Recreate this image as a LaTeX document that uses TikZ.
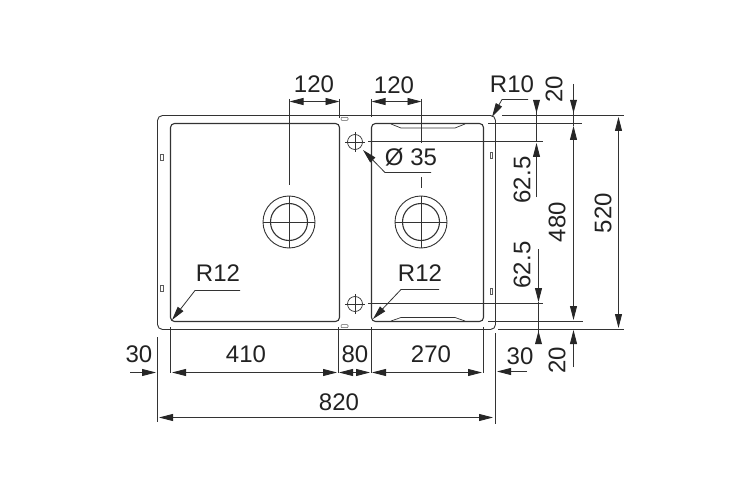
\documentclass[tikz,border=0pt]{standalone}
\usepackage{fontspec}
\setmainfont{Liberation Sans}
\usetikzlibrary{arrows.meta}
\definecolor{ink}{HTML}{333333}
\definecolor{txt}{HTML}{222222}
\tikzset{
  part/.style={draw=ink,line width=0.9pt},
  thin part/.style={draw=ink,line width=0.7pt},
  slot/.style={draw=ink!80,line width=0.5pt},
  dimline/.style={draw=ink,line width=0.8pt},
  tipped/.style={dimline,-{Triangle[length=14pt,width=7pt,color=black!85]}},
  both tipped/.style={dimline,{Triangle[length=14pt,width=7pt,color=black!85]}-{Triangle[length=14pt,width=7pt,color=black!85]}},
  headfill/.style={fill=black!85},
  lab/.style={inner sep=0pt,text=txt,font=\fontsize{24}{24}\selectfont},
  vlab/.style={lab,rotate=90},
}
\begin{document}
\begin{tikzpicture}[x=1pt,y=-1pt]
\useasboundingbox (0,0) rectangle (750,500);
\fill[white] (0,0) rectangle (750,500);
% sink outline
\draw[part,rounded corners=5pt] (157.5,115.5) rectangle (495.5,329.5);
\draw[part,line width=1.1pt,rounded corners=4pt] (170.5,123.5) rectangle (339.5,321.5);
\draw[part,line width=1.1pt,rounded corners=4pt] (371.5,123.5) -- (371.5,321.5) -- (483.5,321.5) -- (483.5,123.5) -- cycle;
\draw[thin part] (391,124) -- (401,128) -- (455,128) -- (465,124);
\draw[thin part] (391,321) -- (401,317.5) -- (455,317.5) -- (465,321);
% slots
\draw[slot,rounded corners=1pt] (341,117.3) rectangle (348,120.5);
\draw[slot,rounded corners=1pt] (341,324.5) rectangle (348,327.7);
\draw[slot] (160.5,154) rectangle (163,160);
\draw[slot] (160.5,285) rectangle (163,291);
\draw[slot] (490,152) rectangle (492.5,158);
\draw[slot] (490,288) rectangle (492.5,294);
% drains
\coordinate (dl) at (289,222);
\coordinate (dr) at (421,222);
\foreach \c in {dl,dr}{
  \draw[part] (\c) circle (26);
  \draw[part,line width=1.1pt] (\c) circle (18.5);
  \draw[thin part] ([xshift=-26pt]\c) -- ([xshift=26pt]\c);
  \draw[thin part] ([yshift=-26pt]\c) -- ([yshift=26pt]\c);
}
% tap holes
\coordinate (ht) at (355,142);
\coordinate (hb) at (355,304);
\foreach \c in {ht,hb}{
  \draw[thin part] (\c) circle (7.5);
  \draw[thin part] ([xshift=-10pt]\c) -- ([xshift=10pt]\c);
  \draw[thin part] ([yshift=-10pt]\c) -- ([yshift=10pt]\c);
}
% centre lines
\draw[dimline] (368,141.5) -- (543,141.5);
\draw[dimline] (368,303.5) -- (543,303.5);
\draw[dimline] (289.5,99) -- (289.5,185);
\draw[dimline] (421.5,99) -- (421.5,143);
\draw[dimline] (421.5,177) -- (421.5,188);
% top dimensions
\draw[dimline] (339.5,99) -- (339.5,118);
\draw[dimline] (371.5,99) -- (371.5,117);
\draw[both tipped] (289.5,101.5) -- (339.5,101.5);
\draw[both tipped] (371.5,101.5) -- (421.5,101.5);
\node[lab] (t120a) at (314,84) {120};
\node[lab] (t120b) at (394,85) {120};
% leaders
\draw[tipped] (431,172.5) -- (385,172.5) -- (363,150);
\node[lab] (tdia) at (411,157) {Ø 35};
\draw[tipped] (528,99.5) -- (502,99.5) -- (492,117);
\node[lab] (tr10) at (512,84) {R10};
\draw[tipped] (240,290.5) -- (195,290.5) -- (172,320);
\node[lab] (tr12a) at (218,273) {R12};
\draw[tipped] (439,289.5) -- (401,289.5) -- (373,319);
\node[lab] (tr12b) at (420,273) {R12};
% right extension lines
\draw[dimline] (502,115.5) -- (624,115.5);
\draw[part] (488,123.5) -- (582,123.5);
\draw[part] (488,321.5) -- (583,321.5);
\draw[dimline] (498,329.5) -- (624,329.5);
% right dimensions
\draw[dimline] (536.5,100) -- (536.5,141.5);
\fill[headfill] (533,100) -- (540,100) -- (536.5,113) -- cycle;
\draw[tipped] (536.5,197) -- (536.5,143);
\draw[dimline] (573.5,84) -- (573.5,126);
\fill[headfill] (570,100) -- (577,100) -- (573.5,113) -- cycle;
\draw[both tipped] (573.5,126) -- (573.5,320);
\draw[tipped] (538.5,249) -- (538.5,302);
\draw[dimline] (538.5,302) -- (538.5,344);
\fill[headfill] (535,344) -- (542,344) -- (538.5,331) -- cycle;
\draw[tipped] (573.5,367) -- (573.5,330);
\draw[both tipped] (618.5,117) -- (618.5,328);
\node[vlab] (t20a) at (554,89) {20};
\node[vlab] (t625a) at (522,180) {62.5};
\node[vlab] (t625b) at (522,265) {62.5};
\node[vlab] (t480) at (557,222) {480};
\node[vlab] (t520) at (603,213) {520};
\node[vlab] (t20b) at (557,360) {20};
% bottom extension lines
\draw[dimline] (157.5,337) -- (157.5,422);
\draw[dimline] (170.5,327) -- (170.5,373);
\draw[dimline] (338.5,327) -- (338.5,373);
\draw[dimline] (371.5,327) -- (371.5,373);
\draw[dimline] (483.5,327) -- (483.5,373);
\draw[dimline] (495.5,333) -- (495.5,424);
% bottom dimensions
\draw[tipped] (130,372.5) -- (156,372.5);
\draw[both tipped] (172,372.5) -- (337,372.5);
\draw[both tipped] (339,372.5) -- (370,372.5);
\draw[both tipped] (372,372.5) -- (482,372.5);
\draw[tipped] (527,371.5) -- (497,371.5);
\draw[both tipped] (159,417.5) -- (493,417.5);
\node[lab] (t30a) at (139,354) {30};
\node[lab] (t410) at (246,354) {410};
\node[lab] (t80) at (355,354) {80};
\node[lab] (t270) at (431,354) {270};
\node[lab] (t30b) at (520,356) {30};
\node[lab] (t820) at (339,402) {820};
\end{tikzpicture}
\end{document}
